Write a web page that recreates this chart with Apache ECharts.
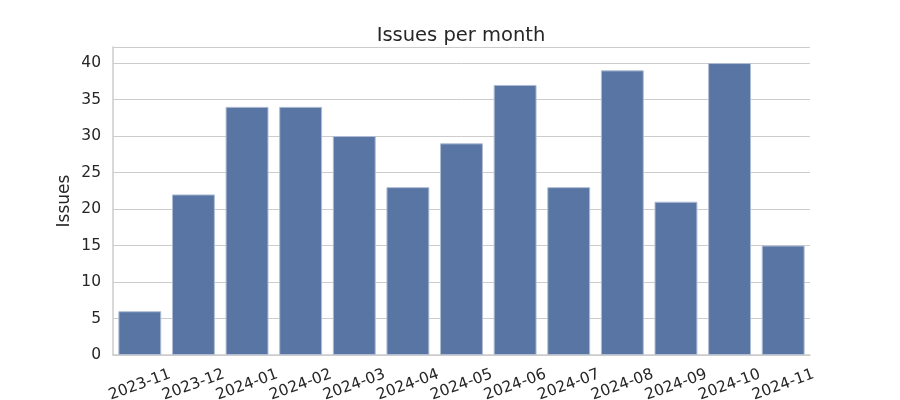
<!DOCTYPE html>
<html>
<head>
<meta charset="utf-8">
<script src="https://cdn.jsdelivr.net/npm/echarts@6/dist/echarts.min.js"></script>
<style>html,body{margin:0;padding:0;background:#fff}#c{width:900px;height:400px}</style>
</head>
<body>
<div id="c"></div>
<script>
const categories = ['2023-11','2023-12','2024-01','2024-02','2024-03','2024-04','2024-05','2024-06','2024-07','2024-08','2024-09','2024-10','2024-11'];
const issues = [6, 22, 34, 34, 30, 23, 29, 37, 23, 39, 21, 40, 15];
const chart = echarts.init(document.getElementById('c'), null, {renderer: 'canvas'});
const font = 'DejaVu Sans';
chart.setOption({
  animation: false,
  title: {
    text: 'Issues per month', left: 456, top: 21, textAlign: 'center',
    textStyle: {fontFamily: font, fontSize: 19.5, fontWeight: 'normal', color: '#262626'}
  },
  grid: {left: 113, right: 90, top: 47, bottom: 45, containLabel: false, outerBoundsMode: 'none'},
  xAxis: {
    type: 'category', data: categories,
    axisLine: {show: true, lineStyle: {color: '#cccccc', width: 1.5}},
    axisTick: {show: false},
    axisLabel: {rotate: 20, align: 'center', verticalAlign: 'middle', margin: 30, interval: 0,
      fontFamily: font, fontSize: 15.5, color: '#262626'}
  },
  yAxis: {
    type: 'value', min: 0, max: 42.2, interval: 5,
    name: 'Issues', nameLocation: 'middle', nameGap: 40, nameMoveOverlap: false,
    nameTextStyle: {fontFamily: font, fontSize: 17, color: '#262626'},
    axisLine: {show: true, lineStyle: {color: '#cccccc', width: 1.5}},
    axisTick: {show: false},
    splitLine: {lineStyle: {color: '#cccccc', width: 1}},
    axisLabel: {fontFamily: font, fontSize: 15.5, color: '#262626', margin: 12,
      showMaxLabel: false}
  },
  series: [{
    type: 'bar', data: issues, barCategoryGap: '20%',
    itemStyle: {color: '#5875a4', borderColor: '#b0bdd3', borderWidth: 1}
  }]
});
</script>
</body>
</html>
